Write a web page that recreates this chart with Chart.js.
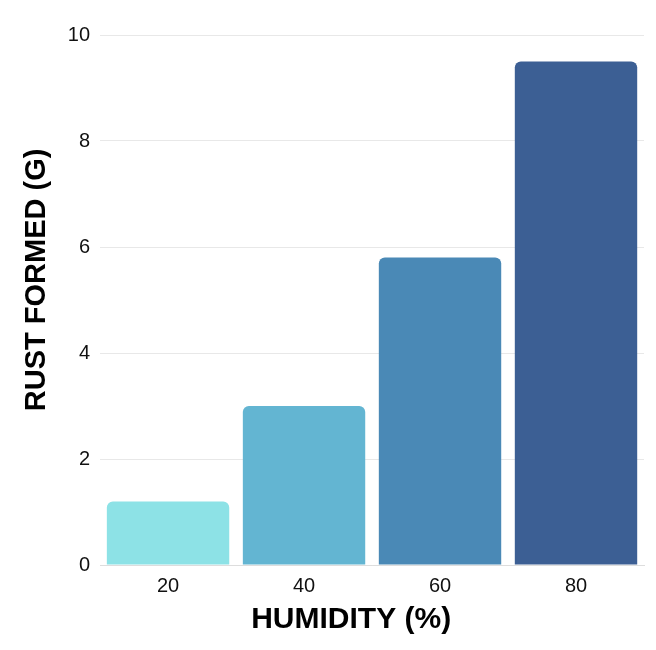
<!DOCTYPE html>
<html>
<head>
<meta charset="utf-8">
<script src="https://cdn.jsdelivr.net/npm/chart.js@4/dist/chart.umd.min.js"></script>
<style>
html,body{margin:0;padding:0;background:#fff;}
#wrap{width:656px;height:650px;position:relative;}
</style>
</head>
<body>
<div id="wrap"><canvas id="c" width="656" height="650"></canvas></div>
<script>
const categories = ["20", "40", "60", "80"];
const rustValues = [1.2, 3.0, 5.8, 9.5];
const barColors = ["#8de2e6", "#63b5d2", "#4a89b6", "#3c5f94"];
const yTicks = [0, 2, 4, 6, 8, 10];
const xTitle = "HUMIDITY (%)";
const yTitle = "RUST FORMED (G)";

Chart.defaults.font.family = "'Liberation Sans', Arial, sans-serif";
Chart.defaults.color = "#111";

new Chart(document.getElementById("c"), {
  type: "bar",
  data: {
    labels: categories,
    datasets: [{
      data: rustValues,
      backgroundColor: barColors,
      borderWidth: 0,
      borderRadius: {topLeft: 6, topRight: 6, bottomLeft: 0, bottomRight: 0},
      borderSkipped: "bottom",
      barPercentage: 0.9,
      categoryPercentage: 1.0
    }]
  },
  options: {
    responsive: false,
    animation: false,
    devicePixelRatio: 1,
    layout: {padding: {left: 20, right: 12, top: 35, bottom: 15}},
    plugins: {legend: {display: false}, tooltip: {enabled: false}},
    scales: {
      x: {
        grid: {display: false, drawTicks: false},
        border: {display: true, color: "#dddddd", width: 1},
        ticks: {font: {size: 20, lineHeight: 1.0}, color: "#111", padding: 11},
        title: {display: true, text: xTitle + "\u00a0\u00a0\u00a0\u00a0\u00a0", font: {size: 30, weight: "bold", lineHeight: 1.0}, color: "#000", padding: {top: -2, bottom: 0}}
      },
      y: {
        min: 0, max: 10,
        afterBuildTicks: (axis) => { axis.ticks = yTicks.map(v => ({value: v})); },
        grid: {color: "#e8e8e8", drawTicks: false, lineWidth: 1},
        border: {display: false},
        ticks: {font: {size: 20}, color: "#111", padding: 10},
        title: {display: true, text: "\u00a0\u00a0\u00a0\u00a0\u00a0" + yTitle, font: {size: 29, weight: "bold"}, color: "#000", padding: {top: 0, bottom: 3}}
      }
    }
  }
});
</script>
</body>
</html>
